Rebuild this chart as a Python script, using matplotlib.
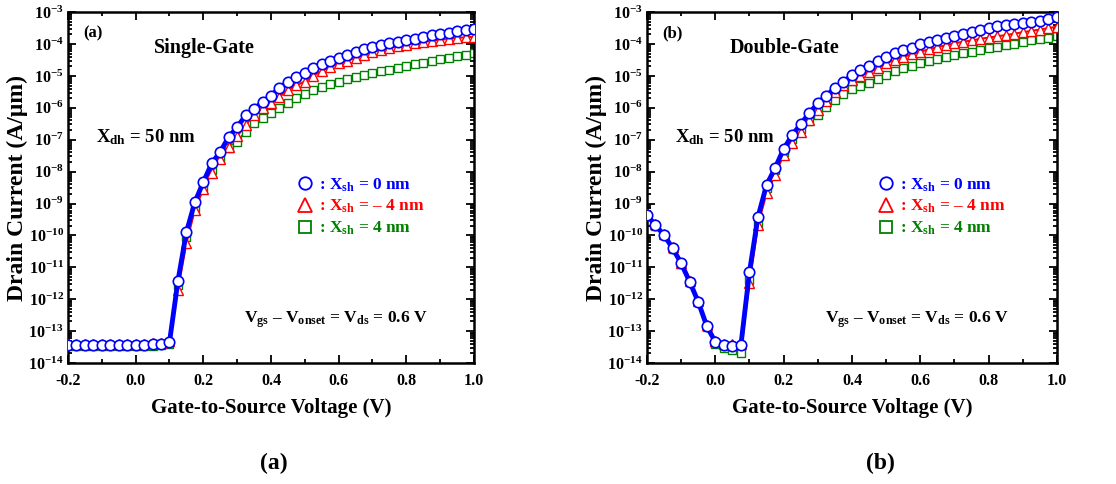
import numpy as np
import matplotlib
matplotlib.use('Agg')
import matplotlib.pyplot as plt
from matplotlib.ticker import MultipleLocator, LogLocator, FuncFormatter, NullFormatter
from matplotlib.lines import Line2D

plt.rcParams['font.family'] = ['Liberation Serif', 'DejaVu Serif']
plt.rcParams['font.weight'] = 'bold'
plt.rcParams['mathtext.fontset'] = 'custom'
plt.rcParams['mathtext.rm'] = 'Liberation Serif:bold'
plt.rcParams['mathtext.bf'] = 'Liberation Serif:bold'
plt.rcParams['mathtext.it'] = 'Liberation Serif:bold'

## DATA (log10 of drain current, A/um), Vgs grid every 25 mV
vgs = np.round(np.arange(-0.2, 1.0001, 0.025), 3)

# (a) Single-Gate
sg_x0 = [-13.44, -13.44, -13.44, -13.44, -13.44, -13.44, -13.44, -13.44, -13.44, -13.43, -13.41, -13.39, -13.35,
         -11.43, -9.90, -8.96, -8.33, -7.74, -7.38, -6.92, -6.61, -6.24, -6.04, -5.82, -5.62, -5.38, -5.19,
         -5.05, -4.90, -4.75, -4.63, -4.53, -4.43, -4.35, -4.25, -4.17, -4.10, -4.04, -3.98, -3.93, -3.88,
         -3.83, -3.78, -3.73, -3.68, -3.64, -3.60, -3.56, -3.52]
sg_xm4 = [-13.40, -13.40, -13.40, -13.40, -13.40, -13.40, -13.40, -13.40, -13.40, -13.39, -13.38, -13.36, -13.30,
          -11.70, -10.25, -9.20, -8.55, -8.03, -7.60, -7.22, -6.89, -6.54, -6.23, -6.02, -5.86, -5.66, -5.44,
          -5.29, -5.18, -5.00, -4.84, -4.72, -4.61, -4.52, -4.43, -4.33, -4.25, -4.19, -4.13, -4.07, -4.02,
          -3.98, -3.94, -3.90, -3.87, -3.84, -3.81, -3.79, -3.77]
sg_x4 = [-13.47, -13.47, -13.47, -13.47, -13.47, -13.47, -13.47, -13.47, -13.47, -13.47, -13.46, -13.45, -13.42,
         -11.55, -10.05, -9.15, -8.50, -7.95, -7.62, -7.25, -7.07, -6.75, -6.48, -6.33, -6.17, -6.00, -5.86,
         -5.69, -5.58, -5.44, -5.34, -5.26, -5.18, -5.10, -5.03, -4.97, -4.92, -4.86, -4.80, -4.74, -4.68,
         -4.63, -4.58, -4.53, -4.48, -4.43, -4.38, -4.33, -4.28]

# (b) Double-Gate
dg_x0 = [-9.36, -9.68, -9.99, -10.40, -10.87, -11.45, -12.08, -12.84, -13.34, -13.44, -13.47, -13.44, -11.15,
         -9.42, -8.42, -7.89, -7.29, -6.86, -6.51, -6.17, -5.86, -5.62, -5.38, -5.19, -4.97, -4.82, -4.69,
         -4.54, -4.41, -4.28, -4.19, -4.12, -4.00, -3.94, -3.88, -3.81, -3.75, -3.69, -3.63, -3.56, -3.50,
         -3.45, -3.41, -3.37, -3.34, -3.30, -3.27, -3.22, -3.16]
dg_xm4 = [-9.33, -9.65, -9.97, -10.37, -10.85, -11.42, -12.05, -12.80, -13.30, -13.40, -13.42, -13.40, -11.50,
          -9.68, -8.68, -8.11, -7.48, -7.11, -6.75, -6.39, -6.07, -5.78, -5.50, -5.30, -5.13, -5.00, -4.88,
          -4.74, -4.60, -4.50, -4.41, -4.32, -4.24, -4.17, -4.10, -4.04, -3.98, -3.93, -3.89, -3.84, -3.80,
          -3.76, -3.72, -3.68, -3.63, -3.59, -3.55, -3.50, -3.46]
dg_x4 = [-9.38, -9.70, -10.00, -10.42, -10.90, -11.47, -12.10, -12.87, -13.40, -13.52, -13.60, -13.69, -11.40,
         -9.60, -8.50, -7.95, -7.38, -6.98, -6.65, -6.42, -6.23, -5.98, -5.76, -5.58, -5.42, -5.32, -5.22,
         -5.09, -4.97, -4.86, -4.76, -4.68, -4.60, -4.53, -4.47, -4.41, -4.35, -4.29, -4.24, -4.18, -4.13,
         -4.08, -4.03, -3.99, -3.94, -3.89, -3.84, -3.80, -3.75]

panels = [('(a)', 'Single-Gate', sg_x0, sg_xm4, sg_x4),
          ('(b)', 'Double-Gate', dg_x0, dg_xm4, dg_x4)]
legend_labels = [': X$_{\\mathrm{sh}}$ = 0 nm', ': X$_{\\mathrm{sh}}$ = \u2013 4 nm', ': X$_{\\mathrm{sh}}$ = 4 nm']

blue = '#0000ff'
red = '#ff0000'
green = '#008000'

fig = plt.figure(figsize=(11.16, 4.84), dpi=100)
axes = [fig.add_axes([0.0609, 0.25, 0.3638, 0.725]),
        fig.add_axes([0.5797, 0.25, 0.3674, 0.725])]

def sci_fmt(v, pos):
    e = int(np.round(np.log10(v)))
    return r'$\mathbf{10^{%d}}$' % e

for ax, (tag, name, y0, ym4, y4) in zip(axes, panels):
    # green, red first, blue on top
    ax.plot(vgs, 10 ** np.array(y4), color=green, lw=1.5, marker='s', ms=6,
            mfc='white', mec=green, mew=1.0, zorder=2)
    ax.plot(vgs, 10 ** np.array(ym4), color=red, lw=1.5, marker='^', ms=7,
            mfc='white', mec=red, mew=1.0, zorder=3)
    ax.plot(vgs, 10 ** np.array(y0), color=blue, lw=3.5, marker='o', ms=7.5,
            mfc='white', mec=blue, mew=1.2, zorder=4)

    ax.set_yscale('log')
    ax.set_xlim(-0.2, 1.0)
    ax.set_ylim(1e-14, 1e-3)

    ## FORMATO EJES
    ax.xaxis.set_major_locator(MultipleLocator(0.2))
    ax.xaxis.set_minor_locator(MultipleLocator(0.1))
    ax.xaxis.set_major_formatter(FuncFormatter(lambda v, p: f'{v:.1f}'))
    ax.yaxis.set_major_locator(LogLocator(base=10, numticks=20))
    ax.yaxis.set_minor_locator(LogLocator(base=10, subs=np.arange(2, 10), numticks=20))
    ax.yaxis.set_major_formatter(FuncFormatter(sci_fmt))
    ax.yaxis.set_minor_formatter(NullFormatter())
    ax.tick_params(axis='both', which='both', direction='in', top=True, right=True, width=1.3)
    ax.tick_params(axis='both', which='major', length=6, labelsize=11.5)
    ax.tick_params(axis='x', which='major', pad=7)
    ax.tick_params(axis='y', which='major', pad=3)
    ax.tick_params(axis='both', which='minor', length=3)
    for sp in ax.spines.values():
        sp.set_linewidth(1.8)
    for lab in ax.get_xticklabels():
        lab.set_fontweight('bold')

    ax.set_xlabel('Gate-to-Source Voltage (V)', fontsize=15, fontweight='bold', labelpad=7)
    ax.set_ylabel('Drain Current (A/\u03bcm)', fontsize=17, fontweight='bold', labelpad=0)

    ## TEXTOS
    ax.text(-0.155, 10 ** -3.66, tag, fontsize=12, fontweight='bold', va='center')
    ax.text(0.054 if tag == '(a)' else 0.043, 10 ** -4.13, name, fontsize=14.5, fontweight='bold', va='center')
    ax.text(-0.118, 10 ** -6.92, 'X$_{\\mathrm{dh}}$ = 50 nm', fontsize=13.5, fontweight='bold', va='center')
    ax.text(0.32, 10 ** -12.65, 'V$_{\\mathrm{gs}}$ \u2013 V$_{\\mathrm{onset}}$ = V$_{\\mathrm{ds}}$ = 0.6 V',
            fontsize=12.5, fontweight='bold', va='center')

    handles = [Line2D([], [], ls='none', marker='o', ms=9, mfc='none', mec=blue, mew=1.3),
               Line2D([], [], ls='none', marker='^', ms=10, mfc='none', mec=red, mew=1.3),
               Line2D([], [], ls='none', marker='s', ms=9, mfc='none', mec=green, mew=1.3)]
    ax.legend(handles, legend_labels, loc='upper left', bbox_to_anchor=(0.528, 0.577),
              frameon=False, handlelength=0.8, handletextpad=0.4, labelspacing=0.25,
              prop={'size': 12.5, 'weight': 'bold'}, labelcolor=[blue, red, green])

fig.text(0.245, 0.043, '(a)', fontsize=17, fontweight='bold', ha='center', va='center')
fig.text(0.789, 0.043, '(b)', fontsize=17, fontweight='bold', ha='center', va='center')

plt.savefig('out.png', dpi=100)
